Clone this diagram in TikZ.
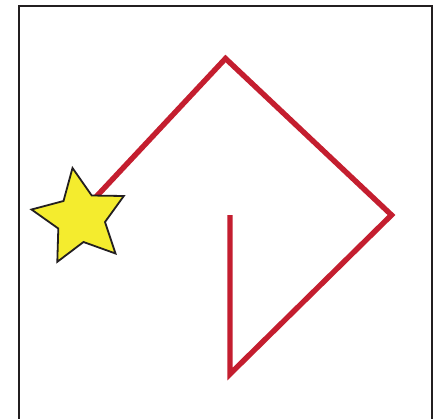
\documentclass[tikz,border=0pt]{standalone}
\definecolor{pathred}{HTML}{C41E2F}
\definecolor{staryellow}{HTML}{F4EC2E}
\definecolor{framegray}{HTML}{231F20}
\tikzset{
  frameline/.style={draw=framegray,line width=2.8pt},
  route/.style={draw=pathred,line width=5.4pt,line join=miter,line cap=butt},
  starshape/.style={draw=framegray,fill=staryellow,line width=1.8pt,line join=miter}
}
\begin{document}
\begin{tikzpicture}[x=1pt,y=-1pt]
\useasboundingbox (0,0) rectangle (443,418);
\fill[white] (0,0) rectangle (443,418);
\coordinate (fbl) at (19,425);
\coordinate (ftl) at (19,6);
\coordinate (ftr) at (432,6);
\coordinate (fbr) at (432,425);
\draw[frameline] (fbl) -- (ftl) -- (ftr) -- (fbr);
\coordinate (s) at (80,214);
\coordinate (a) at (225.5,58.5);
\coordinate (b) at (391.5,215);
\coordinate (c) at (230,374);
\coordinate (d) at (230,215);
\draw[route] (s) -- (a) -- (b) -- (c) -- (d);
\draw[starshape] (72.5,168) -- (91.7,195.5) -- (123.8,196) -- (105,222) -- (115.5,253.5)
  -- (83.5,242) -- (57.3,261.8) -- (58.3,228.5) -- (31.5,209.5) -- (63.5,201) -- cycle;
\end{tikzpicture}
\end{document}
